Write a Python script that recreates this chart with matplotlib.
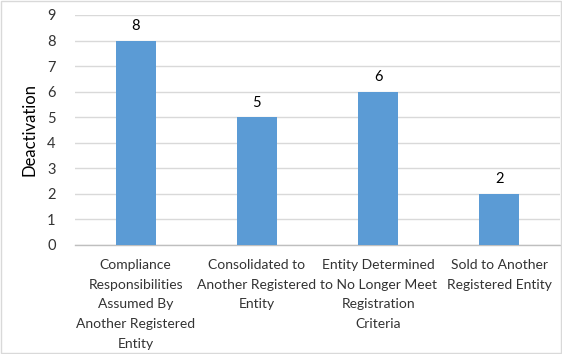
import matplotlib
matplotlib.use("Agg")
import matplotlib.pyplot as plt
from matplotlib.patches import Rectangle

categories = [
    "Compliance\nResponsibilities\nAssumed By\nAnother Registered\nEntity",
    "Consolidated to\nAnother Registered\nEntity",
    "Entity Determined\nto No Longer Meet\nRegistration\nCriteria",
    "Sold to Another\nRegistered Entity",
]
values = [8, 5, 6, 2]
yticks = list(range(0, 10))

plt.rcParams['font.family'] = ['Lato', 'DejaVu Sans']

fig = plt.figure(figsize=(5.62, 3.54), dpi=100)
ax = fig.add_axes([75/562, 1 - 245/354, (560-75)/562, (245-15)/354])

x = list(range(len(categories)))
bars = ax.bar(x, values, width=0.33, color="#5B9BD5", zorder=3)
for xi, v in zip(x, values):
    ax.text(xi, v + 0.3, str(v), ha="center", va="bottom", fontsize=10.5, color="#000000")

ax.set_xlim(-0.5, len(categories) - 0.5)
ax.set_ylim(0, 9)
ax.set_yticks(yticks)
ax.set_yticklabels([str(t) for t in yticks], fontsize=10.5, color="#333333")
ax.set_xticks(x)
ax.set_xticklabels(categories, fontsize=10, color="#333333", linespacing=1.78)
ax.tick_params(axis="both", length=0)
ax.tick_params(axis="y", pad=14)
ax.tick_params(axis="x", pad=10)
ax.grid(axis="y", color="#D9D9D9", linewidth=1, zorder=0)
for s in ["top", "right", "left"]:
    ax.spines[s].set_visible(False)
ax.spines["bottom"].set_color("#BFBFBF")
ax.spines["bottom"].set_linewidth(1)
ax.set_ylabel("Deactivation", fontsize=12, color="#000000")
ax.yaxis.set_label_coords(-37/485, 0.5)

fig.patches.append(Rectangle((0.002, 0.002), 0.996, 0.996, transform=fig.transFigure,
                             fill=False, edgecolor="#D9D9D9", linewidth=1))

fig.savefig("out.png", dpi=100)
